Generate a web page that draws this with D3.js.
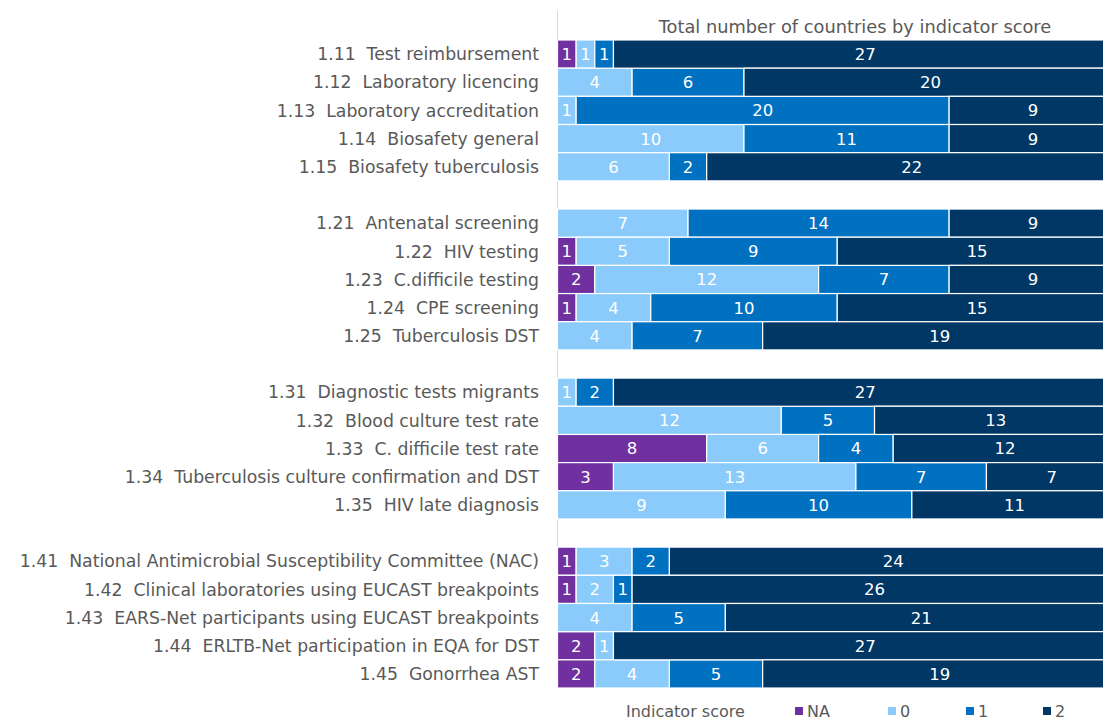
<!DOCTYPE html>
<html><head><meta charset="utf-8">
<script src="https://cdn.jsdelivr.net/npm/d3@7"></script>
<style>body{margin:0;background:#fff}svg{display:block}text{font-family:"DejaVu Sans",Verdana,sans-serif;white-space:pre}</style>
</head><body>
<svg id="c" width="1103" height="720"></svg>
<script>
const categories = [
 "1.11  Test reimbursement","1.12  Laboratory licencing","1.13  Laboratory accreditation","1.14  Biosafety general","1.15  Biosafety tuberculosis",
 null,
 "1.21  Antenatal screening","1.22  HIV testing","1.23  C.difficile testing","1.24  CPE screening","1.25  Tuberculosis DST",
 null,
 "1.31  Diagnostic tests migrants","1.32  Blood culture test rate","1.33  C. difficile test rate","1.34  Tuberculosis culture confirmation and DST","1.35  HIV late diagnosis",
 null,
 "1.41  National Antimicrobial Susceptibility Committee (NAC)","1.42  Clinical laboratories using EUCAST breakpoints","1.43  EARS-Net participants using EUCAST breakpoints","1.44  ERLTB-Net participation in EQA for DST","1.45  Gonorrhea AST"
];
const scoreNA = [1,0,0,0,0, null, 0,1,2,1,0, null, 0,0,8,3,0, null, 1,1,0,2,2];
const score0  = [1,4,1,10,6, null, 7,5,12,4,4, null, 1,12,6,13,9, null, 3,2,4,1,4];
const score1  = [1,6,20,11,2, null, 14,9,7,10,7, null, 2,5,4,7,10, null, 2,1,5,0,5];
const score2  = [27,20,9,9,22, null, 9,15,9,15,19, null, 27,13,12,7,11, null, 24,26,21,27,19];
const seriesNames = ["NA","0","1","2"];
const colors = ["#7030A0","#8ACBFB","#0070C0","#003764"];
const title = "Total number of countries by indicator score";
const legendTitle = "Indicator score";

const svg = d3.select("#c");
const rows = categories.map((c,i)=>({key: c===null ? "gap"+i : c, label:c, vals:[scoreNA[i],score0[i],score1[i],score2[i]]}));
const x = d3.scaleLinear().domain([0,30]).range([557.5,1117]);
const y = d3.scaleBand().domain(rows.map(r=>r.key)).range([40,688]).padding(0);

svg.append("line").attr("x1",557.5).attr("x2",557.5).attr("y1",11).attr("y2",689).attr("stroke","#d9d9d9").attr("stroke-width",1);

const data = rows.filter(r=>r.label!==null);
const stackData = data.map(r=>{const o={key:r.key}; seriesNames.forEach((s,j)=>o[s]=r.vals[j]); return o;});
const stack = d3.stack().keys(seriesNames)(stackData);

stack.forEach((layer,j)=>{
  const g = svg.append("g");
  layer.forEach(d=>{
    const v = d[1]-d[0];
    if(v<=0) return;
    const yy = y(d.data.key);
    g.append("rect").attr("x",x(d[0])).attr("y",yy).attr("width",x(d[1])-x(d[0])).attr("height",y.bandwidth())
      .attr("fill",colors[j]).attr("stroke","#fff").attr("stroke-width",1.2);
    g.append("text").attr("x",(x(d[0])+x(d[1]))/2).attr("y",yy+y.bandwidth()/2).attr("dy","0.36em")
      .attr("text-anchor","middle").attr("fill","#fff").attr("font-size",16.5).text(v);
  });
});

svg.append("g").selectAll("text").data(data).join("text")
  .attr("x",539).attr("y",d=>y(d.key)+y.bandwidth()/2).attr("dy","0.36em")
  .attr("text-anchor","end").attr("fill","#595959").attr("font-size",17.3).text(d=>d.label);

svg.append("text").attr("x",855).attr("y",27).attr("dy","0.36em").attr("text-anchor","middle")
  .attr("fill","#595959").attr("font-size",17.8).text(title);

const ly = 711;
svg.append("text").attr("x",626).attr("y",ly).attr("dy","0.36em").attr("fill","#595959").attr("font-size",16).text(legendTitle);
const lx = [795,888,966,1043];
seriesNames.forEach((s,j)=>{
  svg.append("rect").attr("x",lx[j]).attr("y",ly-4).attr("width",8).attr("height",8).attr("fill",colors[j]);
  svg.append("text").attr("x",lx[j]+12).attr("y",ly).attr("dy","0.36em").attr("fill","#595959").attr("font-size",16).text(s);
});
</script>
</body></html>
